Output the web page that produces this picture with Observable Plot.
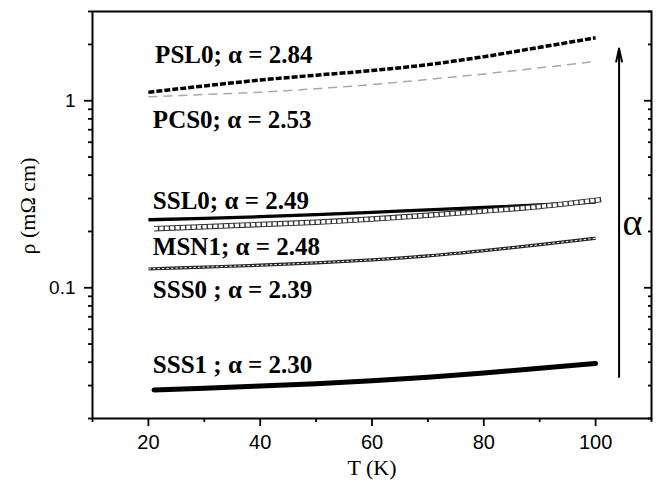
<!DOCTYPE html>
<html>
<head>
<meta charset="utf-8">
<script src="https://cdn.jsdelivr.net/npm/d3@7"></script>
<script src="https://cdn.jsdelivr.net/npm/@observablehq/plot@0.6"></script>
<style>
  html, body { margin: 0; padding: 0; background: #fff; }
</style>
</head>
<body>
<div id="chart"></div>
<script>
// ---- data ----
const T = [20, 30, 40, 50, 60, 70, 80, 90, 100];
const T_MSN1 = [21, 30, 40, 50, 60, 70, 80, 90, 101];
const T_SSS1 = [21, 30, 40, 50, 60, 70, 80, 90, 100];

const rhoPSL0 = [1.11, 1.20, 1.29, 1.37, 1.45, 1.56, 1.72, 1.93, 2.17];
const rhoPCS0 = [1.05, 1.08, 1.11, 1.16, 1.22, 1.30, 1.39, 1.50, 1.62];
const rhoSSL0 = [0.231, 0.235, 0.240, 0.246, 0.253, 0.261, 0.269, 0.277, 0.287];
const rhoMSN1 = [0.207, 0.212, 0.218, 0.224, 0.233, 0.244, 0.257, 0.272, 0.296];
const rhoSSS0 = [0.126, 0.129, 0.132, 0.136, 0.141, 0.148, 0.158, 0.170, 0.184];
const rhoSSS1 = [0.0284, 0.0290, 0.0298, 0.0307, 0.0318, 0.0332, 0.0350, 0.0371, 0.0394];

const labels = ["PSL0; α = 2.84", "PCS0; α = 2.53", "SSL0; α = 2.49", "MSN1; α = 2.48", "SSS0 ; α = 2.39", "SSS1 ; α = 2.30"];
const labelT = [21.2, 20.8, 20.8, 20.8, 20.8, 20.8];
const labelRho = [1.60, 0.714, 0.264, 0.150, 0.0877, 0.035];

const xMajor = [20, 40, 60, 80, 100];
const xMinor = [10, 30, 50, 70, 90, 110];
const yMajor = [0.1, 1];
const yMajorLabels = ["0.1", "1"];
const yMinor = [0.02, 0.03, 0.04, 0.05, 0.06, 0.07, 0.08, 0.09, 0.2, 0.3, 0.4, 0.5, 0.6, 0.7, 0.8, 0.9, 2, 3];

const arrowT = 104.2;
const arrowRho = [0.0333, 1.90];
const alphaT = 106.6;
const alphaRho = 0.192;

// ---- build tables ----
const series = (t, r) => t.map((x, i) => ({T: x, rho: r[i]}));
const PSL0 = series(T, rhoPSL0);
const PCS0 = series(T, rhoPCS0);
const SSL0 = series(T, rhoSSL0);
const MSN1 = series(T_MSN1, rhoMSN1);
const SSS0 = series(T, rhoSSS0);
const SSS1 = series(T_SSS1, rhoSSS1);
const ann = labels.map((s, i) => ({s, T: labelT[i], rho: labelRho[i]}));

const serif = "'Liberation Serif', 'Times New Roman', serif";
const sans = "'Liberation Sans', Arial, sans-serif";
const curve = "monotone-x";
const butt = "butt";

const chart = Plot.plot({
  width: 664,
  height: 483,
  marginLeft: 92,
  marginRight: 13,
  marginTop: 11,
  marginBottom: 65,
  style: {fontFamily: sans, fontSize: "20px", background: "#fff", color: "#000"},
  x: {domain: [10, 110]},
  y: {type: "log", domain: [0.02, 3]},
  marks: [
    // axes
    Plot.axisX({ticks: xMajor, tickSize: 8, tickPadding: 8, tickFormat: d => String(d), strokeWidth: 1.8, fontSize: 20, fontFamily: sans, label: null}),
    Plot.axisX({ticks: xMinor, tickSize: 4, tickFormat: () => "", strokeWidth: 1.8, label: null}),
    Plot.axisY({ticks: yMajor, tickSize: 8, tickPadding: 9, tickFormat: d => yMajorLabels[yMajor.indexOf(d)], strokeWidth: 1.8, fontSize: 19, fontFamily: sans, label: null}),
    Plot.axisY({ticks: yMinor, tickSize: 4, tickFormat: () => "", strokeWidth: 1.8, label: null}),
    Plot.axisY({anchor: "right", ticks: yMajor, tickSize: 8, dx: -8, tickFormat: () => "", strokeWidth: 1.8, label: null}),
    Plot.axisY({anchor: "right", ticks: yMinor, tickSize: 4, dx: -4, tickFormat: () => "", strokeWidth: 1.8, label: null}),
    Plot.frame({strokeWidth: 2, stroke: "#000"}),
    // axis titles
    Plot.text(["T (K)"], {frameAnchor: "bottom", textAnchor: "middle", dy: 56, lineAnchor: "bottom", fontFamily: serif, fontSize: 22}),
    Plot.text(["ρ (mΩ cm)"], {frameAnchor: "left", textAnchor: "middle", rotate: -90, dx: -58, dy: -9, lineAnchor: "bottom", fontFamily: serif, fontSize: 22}),
    // series
    Plot.line(PCS0, {x: "T", y: "rho", stroke: "#a8a8a8", strokeWidth: 1.5, strokeDasharray: "9,6", strokeLinecap: butt, curve}),
    Plot.line(PSL0, {x: "T", y: "rho", stroke: "#000", strokeWidth: 3.5, strokeDasharray: "6,2", strokeLinecap: butt, curve}),
    Plot.line(SSL0, {x: "T", y: "rho", stroke: "#000", strokeWidth: 3.3, strokeLinecap: butt, curve}),
    Plot.line(MSN1, {x: "T", y: "rho", stroke: "#333", strokeWidth: 5.5, strokeLinecap: butt, curve}),
    Plot.line(MSN1, {x: "T", y: "rho", stroke: "#fff", strokeWidth: 3.5, strokeDasharray: "4,1.4", strokeLinecap: butt, curve}),
    Plot.line(SSS0, {x: "T", y: "rho", stroke: "#222", strokeWidth: 3.2, strokeLinecap: butt, curve}),
    Plot.line(SSS0, {x: "T", y: "rho", stroke: "#fff", strokeWidth: 1, strokeDasharray: "2.5,2", strokeLinecap: butt, curve}),
    Plot.line(SSS1, {x: "T", y: "rho", stroke: "#000", strokeWidth: 5, strokeLinecap: "round", curve}),
    // annotations
    Plot.text(ann, {x: "T", y: "rho", text: "s", textAnchor: "start", lineAnchor: "bottom", fontFamily: serif, fontWeight: "bold", fontSize: 25}),
    Plot.arrow([0], {x1: arrowT, x2: arrowT, y1: arrowRho[0], y2: arrowRho[1], stroke: "#000", strokeWidth: 2, headLength: 10, headAngle: 25}),
    Plot.text(["α"], {x: alphaT, y: alphaRho, lineAnchor: "bottom", fontFamily: serif, fontSize: 38})
  ]
});
document.getElementById("chart").appendChild(chart);
</script>
</body>
</html>
